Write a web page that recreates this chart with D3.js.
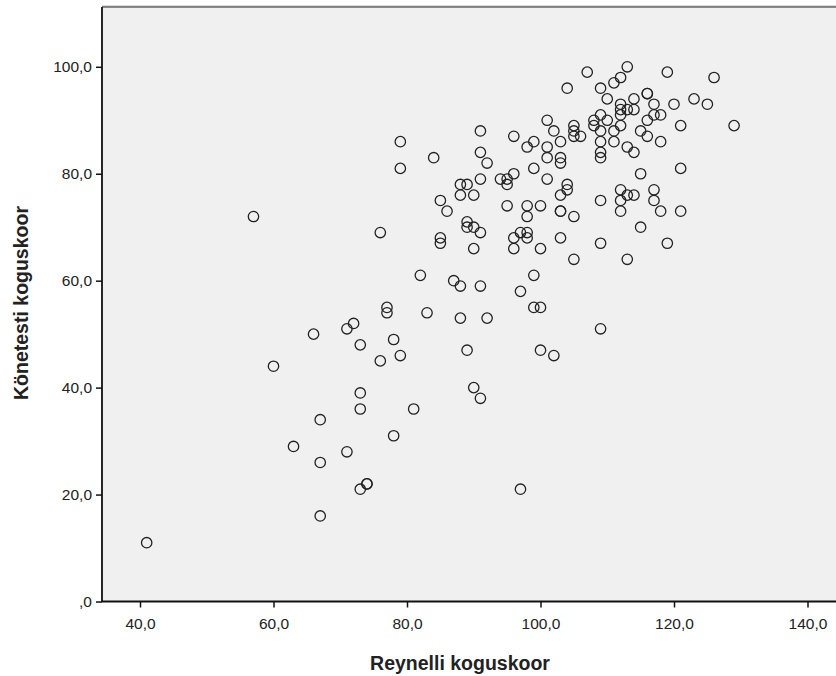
<!DOCTYPE html>
<html><head><meta charset="utf-8">
<script src="https://cdn.jsdelivr.net/npm/d3@7"></script>
<style>body{margin:0;background:#fff}svg{display:block}</style>
</head><body><svg id="c" width="836" height="676"></svg>
<script>
const reynelli = [41,57,60,63,66,67,67,67,71,71,72,73,73,73,73,74,74,76,76,77,77,78,78,79,79,79,81,82,83,84,85,85,85,86,87,88,88,88,88,89,89,89,89,90,90,90,90,91,91,91,91,91,91,92,92,94,95,95,95,96,96,96,96,97,97,97,98,98,98,98,98,99,99,99,99,100,100,100,100,101,101,101,101,102,102,103,103,103,103,103,103,103,104,104,104,105,105,105,105,105,106,107,108,108,109,109,109,109,109,109,109,109,109,110,110,111,111,111,112,112,112,112,112,112,112,112,113,113,113,113,113,114,114,114,114,115,115,115,116,116,116,116,117,117,117,117,118,118,118,119,119,120,121,121,121,123,125,126,129];
const konetesti = [11,72,44,29,50,34,26,16,28,51,52,48,39,36,21,22,22,45,69,55,54,49,31,86,81,46,36,61,54,83,75,68,67,73,60,78,76,59,53,78,71,70,47,76,70,66,40,88,84,79,69,59,38,82,53,79,79,78,74,87,80,68,66,69,58,21,85,74,72,69,68,86,81,61,55,74,66,55,47,90,85,83,79,88,46,86,83,82,76,73,73,68,96,78,77,89,88,87,72,64,87,99,90,89,96,91,88,86,84,83,75,67,51,94,90,97,88,86,98,93,92,91,89,77,75,73,100,92,85,76,64,94,92,84,76,88,80,70,95,95,90,87,93,91,77,75,91,86,73,99,67,93,89,81,73,94,93,98,89];
const xTicks = [40, 60, 80, 100, 120, 140];
const yTicks = [0, 20, 40, 60, 80, 100];
const xTitle = "Reynelli koguskoor";
const yTitle = "Könetesti koguskoor";
const fmt = v => v === 0 ? ",0" : v.toFixed(1).replace(".", ",");

const svg = d3.select("#c");
const x = d3.scaleLinear().domain([40, 140]).range([140, 807.5]);
const y = d3.scaleLinear().domain([0, 100]).range([601.5, 66.8]);
const L = 102, T = 7, R = 850, B = 601.5;
const FONT = "Liberation Sans, Arial, sans-serif";

svg.append("rect").attr("x", L).attr("y", T).attr("width", R - L).attr("height", B - T)
  .attr("fill", "#f0f0f0");
svg.append("line").attr("x1", L).attr("x2", R).attr("y1", T - 1).attr("y2", T - 1)
  .attr("stroke", "#bbb").attr("stroke-width", 1);
svg.append("line").attr("x1", L).attr("x2", R).attr("y1", T).attr("y2", T)
  .attr("stroke", "#222").attr("stroke-width", 1.2);

const gx = svg.append("g").attr("transform", `translate(0,${B})`)
  .call(d3.axisBottom(x).tickValues(xTicks).tickFormat(fmt).tickSize(6).tickSizeOuter(0).tickPadding(10));
const gy = svg.append("g").attr("transform", `translate(${L},0)`)
  .call(d3.axisLeft(y).tickValues(yTicks).tickFormat(fmt).tickSize(6).tickSizeOuter(0).tickPadding(4));
[gx, gy].forEach(g => {
  g.select(".domain").remove();
  g.selectAll(".tick line").attr("stroke", "#111").attr("stroke-width", 1.5);
  g.selectAll(".tick text").attr("font-family", FONT)
    .attr("font-size", 15.5).attr("fill", "#222");
});
svg.append("line").attr("x1", L).attr("x2", L).attr("y1", T).attr("y2", B + 0.5)
  .attr("stroke", "#111").attr("stroke-width", 1.8);
svg.append("line").attr("x1", L - 0.5).attr("x2", R).attr("y1", B).attr("y2", B)
  .attr("stroke", "#111").attr("stroke-width", 1.8);

const pts = reynelli.map((v, i) => [v, konetesti[i]]);
svg.append("g").selectAll("circle").data(pts).join("circle")
  .attr("cx", d => x(d[0])).attr("cy", d => y(d[1])).attr("r", 5.2)
  .attr("fill", "none").attr("stroke", "#222").attr("stroke-width", 1.3);

svg.append("text").attr("x", 460).attr("y", 670).attr("text-anchor", "middle")
  .attr("font-family", FONT).attr("font-weight", "bold")
  .attr("font-size", 19.5).attr("fill", "#222").text(xTitle);
svg.append("text").attr("transform", "translate(28,303) rotate(-90)").attr("text-anchor", "middle")
  .attr("font-family", FONT).attr("font-weight", "bold")
  .attr("font-size", 19.5).attr("fill", "#222").text(yTitle);
</script></body></html>
